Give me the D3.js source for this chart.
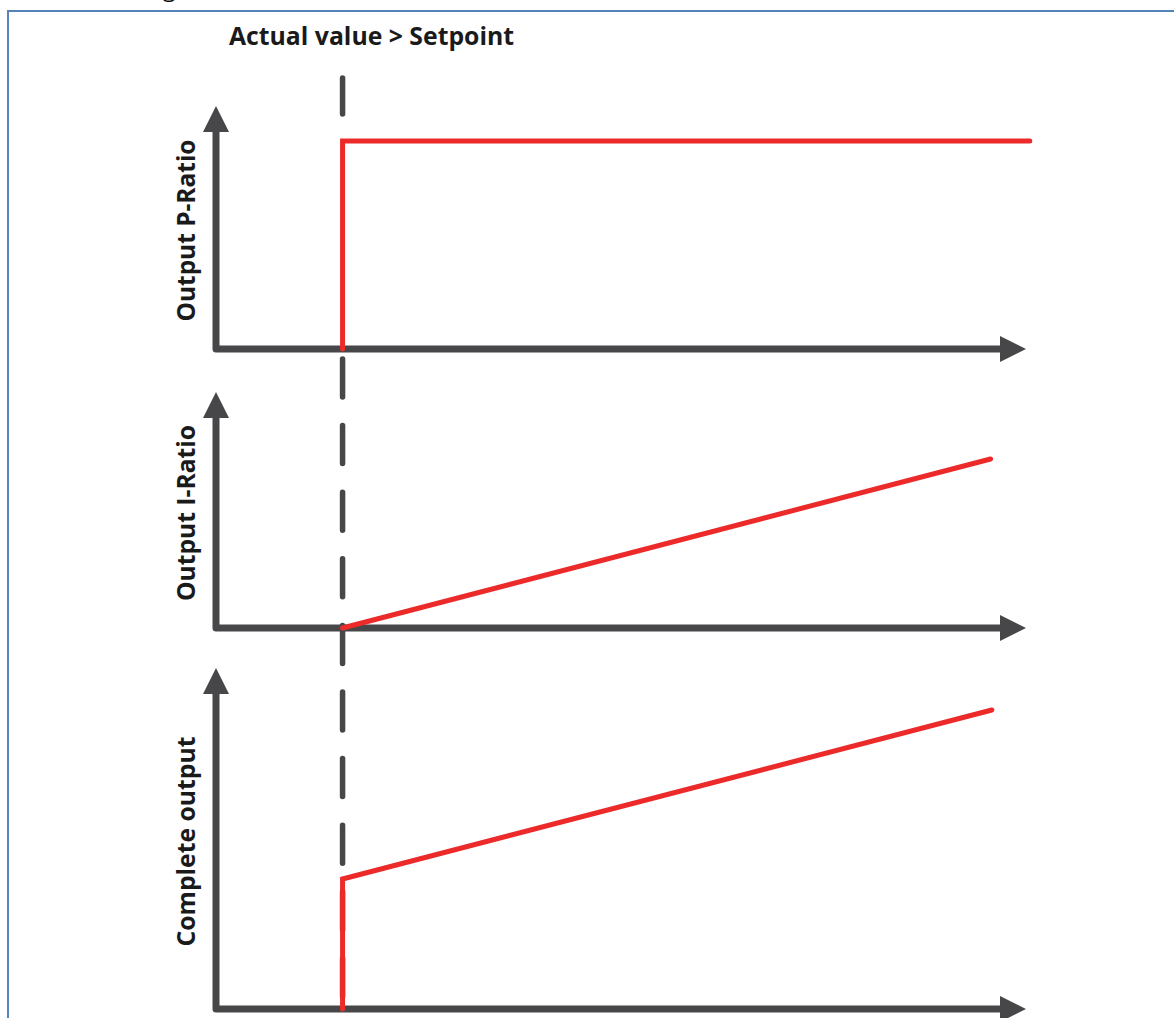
<!DOCTYPE html>
<html>
<head>
<meta charset="utf-8">
<script src="https://cdn.jsdelivr.net/npm/d3@7"></script>
<style>
  html, body { margin: 0; padding: 0; background: #fff; overflow: hidden; }
  svg { display: block; }
</style>
</head>
<body>
<div id="chart"></div>
<script>
// Values (time in arbitrary units, output in arbitrary units)
const stepTime = 10;
const pTime = [10, 10, 64.3];
const pValue = [0, 8, 8];
const iTime = [10, 61.2];
const iValue = [0, 6.5];
const totalTime = [10, 10, 61.3];
const totalValue = [0, 5, 11.5];
const panelLabels = ["Output P-Ratio", "Output I-Ratio", "Complete output"];
const panelLabelLengths = [182, 176, 210];
const title = "Actual value > Setpoint";
const introText = "The following illustration shows the behavior of the PI controller";

(function () {
  const width = 1174, height = 1018;
  const axisColor = "#474749";
  const red = "#ec2a2a";

  const svg = d3.select("#chart").append("svg")
    .attr("width", width).attr("height", height);

  // line of text above the frame, mostly cut off by the page top
  svg.append("text")
    .attr("x", 20).attr("y", -2)
    .attr("textLength", 740).attr("lengthAdjust", "spacingAndGlyphs")
    .style("font-family", "Carlito, 'Liberation Sans', sans-serif")
    .style("font-size", "22px")
    .style("fill", "#111")
    .text(introText);

  // frame
  svg.append("rect")
    .attr("x", 8).attr("y", 11)
    .attr("width", 1300).attr("height", 1200)
    .attr("fill", "none")
    .attr("stroke", "#5683bd")
    .attr("stroke-width", 2);

  svg.append("text")
    .attr("x", 229).attr("y", 45)
    .attr("textLength", 285).attr("lengthAdjust", "spacingAndGlyphs")
    .style("font-family", "'Open Sans', sans-serif")
    .style("font-weight", "bold")
    .style("font-size", "25px")
    .style("fill", "#1a1a1a")
    .text(title);

  const x = d3.scaleLinear().domain([0, 64]).range([216, 1026]);

  const panels = [
    { axisY: 349, top: 106, t: pTime, v: pValue },
    { axisY: 628, top: 392, t: iTime, v: iValue },
    { axisY: 1009, top: 668, t: totalTime, v: totalValue }
  ];

  const ah = 26, aw = 13; // arrowhead length / half width
  const xs = x(stepTime);

  // dashed marker line at the step time
  svg.append("line")
    .attr("x1", xs).attr("x2", xs).attr("y1", 78).attr("y2", 114)
    .attr("stroke", axisColor).attr("stroke-width", 5.5)
    .attr("stroke-linecap", "round");
  svg.append("line")
    .attr("x1", xs).attr("x2", xs).attr("y1", 359).attr("y2", 1030)
    .attr("stroke", axisColor).attr("stroke-width", 5.5)
    .attr("stroke-linecap", "round")
    .attr("stroke-dasharray", "38 28.6");

  panels.forEach((p, i) => {
    const y = d3.scaleLinear().domain([0, 10]).range([p.axisY, p.axisY - 260]);
    const g = svg.append("g");

    // axes
    g.append("path")
      .attr("d", `M${x(0)},${p.top + ah}V${p.axisY}H${x(64) - ah}`)
      .attr("fill", "none")
      .attr("stroke", axisColor)
      .attr("stroke-width", 7)
      .attr("stroke-linejoin", "round")
      .attr("stroke-linecap", "round");
    g.append("path")
      .attr("d", `M${x(0)},${p.top}L${x(0) + aw},${p.top + ah}L${x(0) - aw},${p.top + ah}Z`)
      .attr("fill", axisColor);
    g.append("path")
      .attr("d", `M${x(64)},${p.axisY}L${x(64) - ah},${p.axisY - aw}L${x(64) - ah},${p.axisY + aw}Z`)
      .attr("fill", axisColor);

    // response curve
    const line = d3.line().x(d => x(d[0])).y(d => y(d[1]));
    g.append("path")
      .attr("d", line(d3.zip(p.t, p.v)))
      .attr("fill", "none")
      .attr("stroke", red)
      .attr("stroke-width", 5)
      .attr("stroke-linejoin", "miter")
      .attr("stroke-linecap", "round");

    g.append("text")
      .attr("transform", `translate(195,${(p.top + p.axisY) / 2 + 3}) rotate(-90)`)
      .attr("text-anchor", "middle")
      .attr("textLength", panelLabelLengths[i]).attr("lengthAdjust", "spacingAndGlyphs")
      .style("font-family", "'Open Sans', sans-serif")
      .style("font-weight", "bold")
      .style("font-size", "25px")
      .style("fill", "#1a1a1a")
      .text(panelLabels[i]);
  });
})();
</script>
</body>
</html>
